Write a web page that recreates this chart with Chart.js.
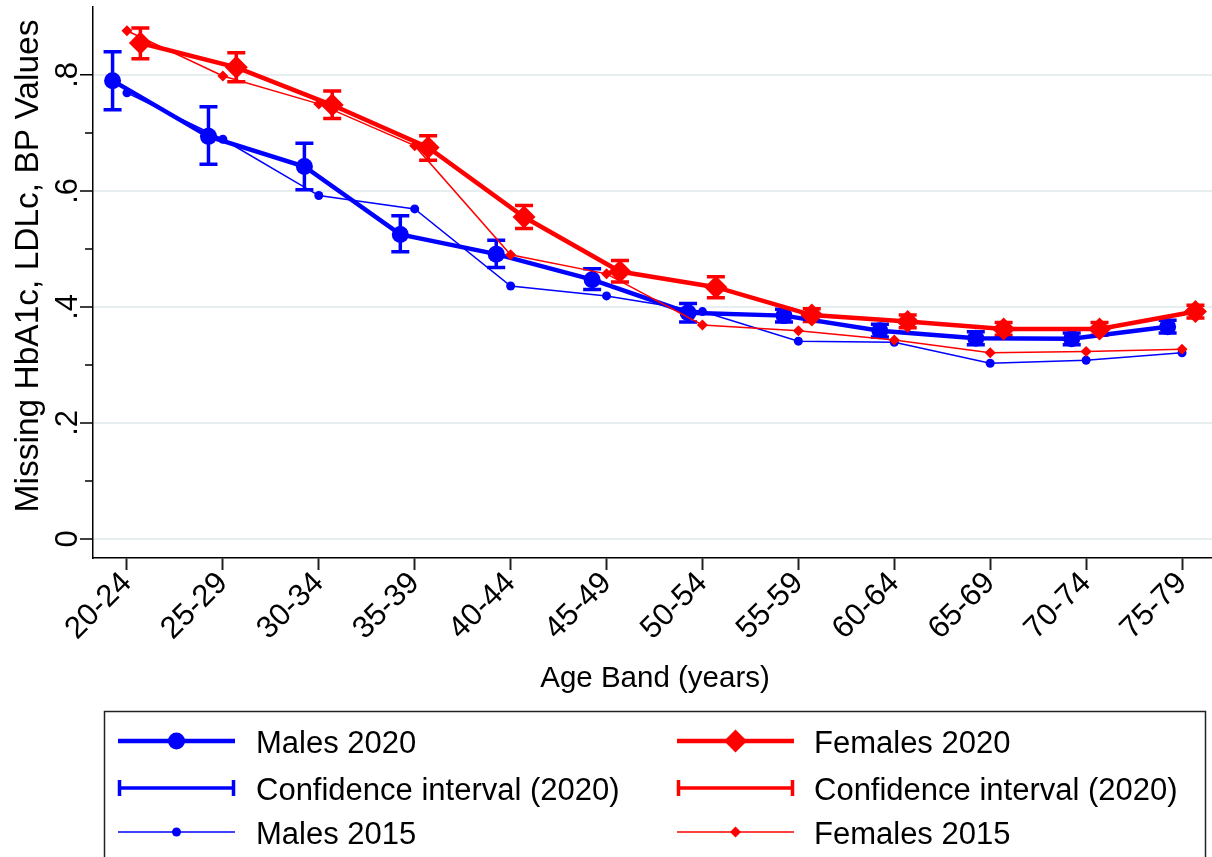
<!DOCTYPE html>
<html>
<head>
<meta charset="utf-8">
<title>Missing values by age band</title>
<script src="https://cdn.jsdelivr.net/npm/chart.js@4.4.1/dist/chart.umd.min.js"></script>
<style>
  html, body { margin: 0; padding: 0; background: #fff; }
  #wrap { width: 1212px; height: 857px; }
</style>
</head>
<body>
<div id="wrap"><canvas id="myChart" width="1212" height="857"></canvas></div>
<script>
// data
var ageBands = ['20-24', '25-29', '30-34', '35-39', '40-44', '45-49', '50-54', '55-59', '60-64', '65-69', '70-74', '75-79'];

var males2020   = [0.790, 0.694, 0.642, 0.525, 0.491, 0.447, 0.390, 0.385, 0.359, 0.346, 0.345, 0.366];
var males2020Lo = [0.740, 0.646, 0.602, 0.495, 0.468, 0.430, 0.374, 0.374, 0.348, 0.335, 0.335, 0.355];
var males2020Hi = [0.840, 0.745, 0.682, 0.557, 0.515, 0.466, 0.406, 0.396, 0.370, 0.357, 0.355, 0.377];

var females2020   = [0.855, 0.813, 0.748, 0.675, 0.555, 0.461, 0.434, 0.386, 0.375, 0.362, 0.362, 0.392];
var females2020Lo = [0.828, 0.788, 0.725, 0.653, 0.535, 0.443, 0.416, 0.375, 0.364, 0.351, 0.351, 0.381];
var females2020Hi = [0.881, 0.838, 0.772, 0.695, 0.575, 0.480, 0.452, 0.397, 0.386, 0.373, 0.373, 0.403];

var males2015   = [0.769, 0.689, 0.592, 0.569, 0.436, 0.419, 0.392, 0.341, 0.339, 0.303, 0.308, 0.321];
var females2015 = [0.876, 0.798, 0.750, 0.678, 0.490, 0.457, 0.369, 0.359, 0.343, 0.321, 0.323, 0.327];

var yMajor = [0, 0.2, 0.4, 0.6, 0.8];
var yMajorLabels = ['0', '.2', '.4', '.6', '.8'];
var yMinor = [0.1, 0.3, 0.5, 0.7];

var BLUE = '#0000ff';
var RED = '#ff0000';
var FONT = '"Liberation Sans", Arial, sans-serif';

function pts(vals, off) {
  return vals.map(function (v, i) { return { x: i + off, y: v }; });
}

// error bars, legend, y-axis labels and titles
var stataPlugin = {
  id: 'stata',
  beforeDatasetsDraw: function (chart) {
    var c = chart.ctx, xs = chart.scales.x, ys = chart.scales.y;
    var bars = [
      { lo: males2020Lo, hi: males2020Hi, off: -0.15, color: BLUE },
      { lo: females2020Lo, hi: females2020Hi, off: 0.14, color: RED }
    ];
    c.save();
    bars.forEach(function (b) {
      c.strokeStyle = b.color;
      c.lineWidth = 3.5;
      c.lineCap = 'butt';
      b.lo.forEach(function (lo, i) {
        var x = xs.getPixelForValue(i + b.off);
        var y1 = ys.getPixelForValue(lo), y2 = ys.getPixelForValue(b.hi[i]);
        c.beginPath();
        c.moveTo(x, y1); c.lineTo(x, y2);
        c.moveTo(x - 9, y1); c.lineTo(x + 9, y1);
        c.moveTo(x - 9, y2); c.lineTo(x + 9, y2);
        c.stroke();
      });
    });
    c.restore();
  },
  afterDraw: function (chart) {
    var c = chart.ctx, ys = chart.scales.y, area = chart.chartArea;
    c.save();
    // y tick marks
    c.strokeStyle = '#000';
    c.lineWidth = 1.5;
    c.beginPath();
    yMajor.forEach(function (v) {
      var y = ys.getPixelForValue(v);
      c.moveTo(area.left - 13, y); c.lineTo(area.left, y);
    });
    yMinor.forEach(function (v) {
      var y = ys.getPixelForValue(v);
      c.moveTo(area.left - 8, y); c.lineTo(area.left, y);
    });
    c.stroke();
    // y tick labels, rotated
    c.fillStyle = '#000';
    c.font = '31px ' + FONT;
    c.textAlign = 'center';
    c.textBaseline = 'middle';
    yMajor.forEach(function (v, i) {
      c.save();
      c.translate(67, ys.getPixelForValue(v));
      c.rotate(-Math.PI / 2);
      c.fillText(yMajorLabels[i], 0, 1);
      c.restore();
    });
    // y title
    c.save();
    c.font = '33.5px ' + FONT;
    c.translate(29, 266);
    c.rotate(-Math.PI / 2);
    c.fillText('Missing HbA1c, LDLc, BP Values', 0, 0);
    c.restore();
    // x title
    c.font = '29.5px ' + FONT;
    c.textBaseline = 'alphabetic';
    c.fillText('Age Band (years)', 655, 687);

    // legend
    c.lineWidth = 1.5;
    c.strokeStyle = '#222';
    c.strokeRect(104.5, 711.5, 1101, 170);
    var cols = [{ x0: 118, x1: 235, tx: 256 }, { x0: 677, x1: 794, tx: 814 }];
    var rows = [741, 788, 832];
    var entries = [
      [{ label: 'Males 2020', color: BLUE, kind: 'main', shape: 'circle' },
       { label: 'Confidence interval (2020)', color: BLUE, kind: 'ci' },
       { label: 'Males 2015', color: BLUE, kind: 'old', shape: 'circle' }],
      [{ label: 'Females 2020', color: RED, kind: 'main', shape: 'diamond' },
       { label: 'Confidence interval (2020)', color: RED, kind: 'ci' },
       { label: 'Females 2015', color: RED, kind: 'old', shape: 'diamond' }]
    ];
    entries.forEach(function (col, ci) {
      var cl = cols[ci];
      col.forEach(function (e, ri) {
        var y = rows[ri];
        var mid = (cl.x0 + cl.x1) / 2;
        c.strokeStyle = e.color;
        c.fillStyle = e.color;
        c.lineWidth = e.kind === 'old' ? 1.5 : (e.kind === 'ci' ? 3.5 : 4.5);
        c.beginPath();
        c.moveTo(cl.x0, y); c.lineTo(cl.x1, y);
        if (e.kind === 'ci') {
          c.moveTo(cl.x0 + 1.5, y - 8); c.lineTo(cl.x0 + 1.5, y + 8);
          c.moveTo(cl.x1 - 1.5, y - 8); c.lineTo(cl.x1 - 1.5, y + 8);
        }
        c.stroke();
        if (e.kind !== 'ci') {
          var r = e.kind === 'main' ? (e.shape === 'circle' ? 8.5 : 11.5) : (e.shape === 'circle' ? 4.5 : 5.5);
          c.beginPath();
          if (e.shape === 'circle') {
            c.arc(mid, y, r, 0, Math.PI * 2);
          } else {
            c.moveTo(mid, y - r); c.lineTo(mid + r, y); c.lineTo(mid, y + r); c.lineTo(mid - r, y); c.closePath();
          }
          c.fill();
        }
        c.fillStyle = '#000';
        c.font = '31px ' + FONT;
        c.textAlign = 'left';
        c.textBaseline = 'alphabetic';
        c.fillText(e.label, cl.tx, y + 12);
      });
    });
    c.restore();
  }
};

var ctx = document.getElementById('myChart').getContext('2d');
var chart = new Chart(ctx, {
  type: 'line',
  data: {
    datasets: [
      {
        label: 'Males 2020',
        data: pts(males2020, -0.15),
        borderColor: BLUE, backgroundColor: BLUE,
        borderWidth: 4.5, pointRadius: 8.5, pointStyle: 'circle',
        pointBorderWidth: 0, order: 4
      },
      {
        label: 'Females 2020',
        data: pts(females2020, 0.14),
        borderColor: RED, backgroundColor: RED,
        borderWidth: 4.5, pointRadius: 11.5, pointStyle: 'rectRot',
        pointBorderWidth: 0, order: 3
      },
      {
        label: 'Males 2015',
        data: pts(males2015, 0),
        borderColor: BLUE, backgroundColor: BLUE,
        borderWidth: 1.5, pointRadius: 4.5, pointStyle: 'circle',
        pointBorderWidth: 0, order: 2
      },
      {
        label: 'Females 2015',
        data: pts(females2015, 0),
        borderColor: RED, backgroundColor: RED,
        borderWidth: 1.5, pointRadius: 5.5, pointStyle: 'rectRot',
        pointBorderWidth: 0, order: 1
      }
    ]
  },
  options: {
    responsive: false,
    animation: false,
    devicePixelRatio: 1,
    layout: { autoPadding: false, padding: { left: 0, right: 0, top: 7, bottom: 0 } },
    plugins: { legend: { display: false }, tooltip: { enabled: false } },
    scales: {
      x: {
        type: 'linear',
        min: -0.354,
        max: 11.3125,
        afterBuildTicks: function (s) { s.ticks = ageBands.map(function (b, i) { return { value: i }; }); },
        afterFit: function (s) { s.height = 299; s.paddingLeft = 0; s.paddingRight = 0; },
        ticks: {
          autoSkip: false,
          minRotation: 45, maxRotation: 45,
          padding: -5,
          color: '#000',
          font: { family: FONT, size: 31 },
          callback: function (v) { return ageBands[v]; }
        },
        grid: { drawOnChartArea: false, tickLength: 12, tickWidth: 2, tickColor: '#222' },
        border: { display: true, color: '#000', width: 1.5 }
      },
      y: {
        min: -0.0328,
        max: 0.917,
        afterBuildTicks: function (s) {
          s.ticks = yMajor.concat(yMinor).sort().map(function (v) { return { value: v }; });
        },
        afterFit: function (s) { s.width = 93; },
        ticks: { display: false },
        grid: {
          drawTicks: false,
          lineWidth: 2,
          color: function (c) { return yMajor.indexOf(c.tick.value) >= 0 ? '#e6eef0' : 'rgba(0,0,0,0)'; }
        },
        border: { display: true, color: '#000', width: 1.5 }
      }
    }
  },
  plugins: [stataPlugin]
});
</script>
</body>
</html>
